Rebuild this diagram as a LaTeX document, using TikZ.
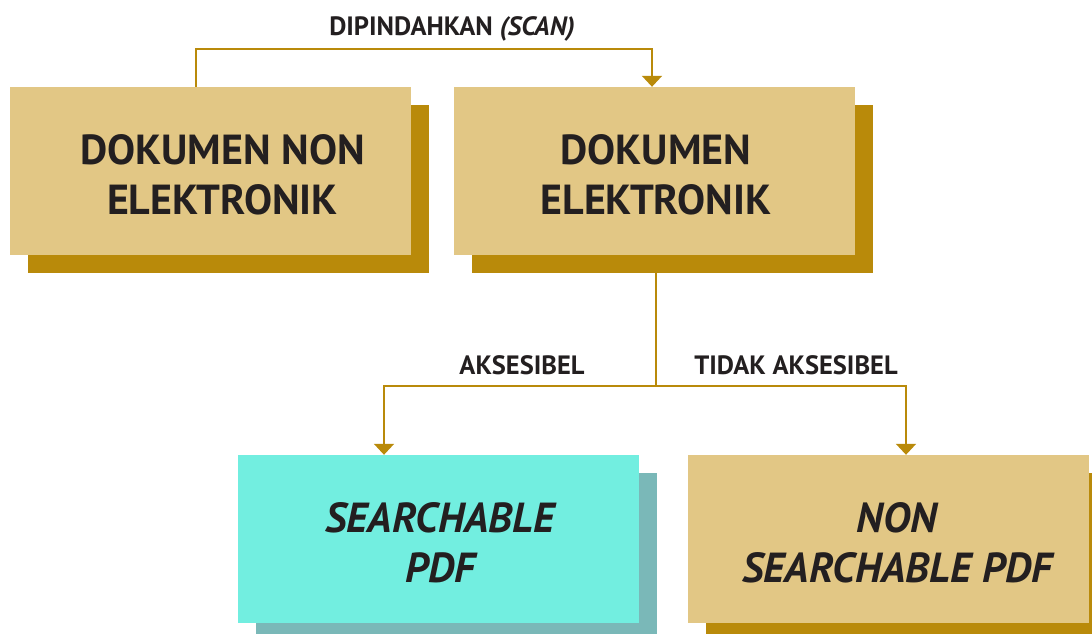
\documentclass[tikz,border=0pt]{standalone}
\usepackage{fontspec}
\setmainfont{PT Sans}
\usetikzlibrary{arrows.meta}
\definecolor{boxfill}{HTML}{E2C785}
\definecolor{boxshade}{HTML}{B98A0A}
\definecolor{cyanfill}{HTML}{72EEE0}
\definecolor{cyanshade}{HTML}{7AB8B8}
\definecolor{linecol}{HTML}{B98A0A}
\definecolor{txt}{HTML}{231F20}
\tikzset{
  box/.style={rectangle, fill=boxfill, minimum width=401pt, minimum height=168pt, inner sep=0pt},
  cbox/.style={box, fill=cyanfill},
  boxtext/.style={text=txt, align=center, inner sep=0pt, font=\fontsize{42}{50}\selectfont\bfseries},
  shade/.style={fill=boxshade},
  cshade/.style={fill=cyanshade},
  conn/.style={draw=linecol, line width=2pt, -{Triangle[width=20pt,length=11pt]}},
  lbl/.style={text=txt, font=\fontsize{26.5}{30}\selectfont\bfseries, inner sep=0pt, anchor=base}
}
\begin{document}
\begin{tikzpicture}[x=1pt,y=-1pt]
\clip (0,0) rectangle (1092,634);
\fill[white] (0,0) rectangle (1092,634);
% shadows
\fill[shade] (28,105) rectangle (429,273);
\fill[shade] (472,105) rectangle (873,273);
\fill[cshade] (256,473) rectangle (657,660);
\fill[shade] (706,473) rectangle (1107,660);
% boxes
\node[box] (a) at (210.5,171) {};
\node[box] (b) at (654.5,171) {};
\node[cbox] (c) at (438.5,539) {};
\node[box] (d) at (888.5,539) {};
% box texts
\node[boxtext] (ta) at (222.5,175) {DOKUMEN NON\\ELEKTRONIK};
\node[boxtext] (tb) at (656,175) {DOKUMEN\\ELEKTRONIK};
\node[boxtext] (tc) at (440,543) {\itshape SEARCHABLE\\\itshape PDF};
\node[boxtext] (td) at (897,543) {\itshape NON\\\itshape SEARCHABLE PDF};
% connectors
\coordinate (topr) at (652,49);
\draw[conn] ([xshift=-14.5pt]a.north) |- (topr) -- ([xshift=-2.5pt]b.north);
\coordinate (mid) at (656,386);
\draw[conn] ([xshift=1.5pt]b.south) -- (mid) -| ([xshift=-54.5pt]c.north);
\draw[conn] (mid) -| ([xshift=17.5pt]d.north);
% labels
\node[lbl] (l1) at (452,36) {DIPINDAHKAN \textit{(SCAN)}};
\node[lbl] (l2) at (522,374) {AKSESIBEL};
\node[lbl] (l3) at (796,374) {TIDAK AKSESIBEL};
\end{tikzpicture}
\end{document}
